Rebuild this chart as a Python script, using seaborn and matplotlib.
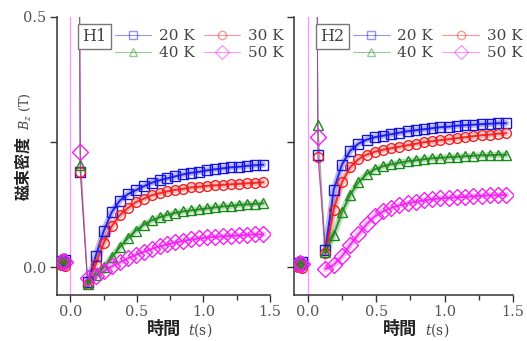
import matplotlib
matplotlib.use("Agg")
import matplotlib.pyplot as plt
from matplotlib.lines import Line2D
import seaborn as sns

# marker times (s)
t_pre = [-0.07, -0.055, -0.04]
t_spike = [0.068, 0.075, 0.13]
t_post = [0.13, 0.19, 0.25, 0.31, 0.37, 0.43, 0.49, 0.55, 0.61, 0.67, 0.73,
          0.79, 0.85, 0.91, 0.97, 1.03, 1.09, 1.15, 1.21, 1.27, 1.33, 1.39, 1.45]
spike_top = 0.62

labels = ["20 K", "30 K", "40 K", "50 K"]
colors = ["#1414e6", "#f01e1e", "#1a8a1a", "#f020f0"]
markers = ["s", "o", "^", "D"]

# H1 panel, B_z (T)
h1_pre = {
    "20 K": [0.012, 0.010, 0.014],
    "30 K": [0.004, 0.008, 0.002],
    "40 K": [0.016, 0.012, 0.018],
    "50 K": [0.010, 0.013, 0.011],
}
h1_peak = {"20 K": 0.190, "30 K": 0.190, "40 K": 0.205, "50 K": 0.230}
h1_post = {
    "20 K": [-0.030, 0.022, 0.072, 0.110, 0.133, 0.146, 0.154, 0.162, 0.169, 0.174, 0.178,
             0.182, 0.186, 0.189, 0.191, 0.194, 0.196, 0.198, 0.200, 0.201, 0.203, 0.204, 0.205],
    "30 K": [-0.034, 0.006, 0.048, 0.082, 0.104, 0.118, 0.130, 0.137, 0.144, 0.148, 0.152,
             0.155, 0.157, 0.160, 0.161, 0.163, 0.164, 0.165, 0.166, 0.167, 0.168, 0.169, 0.170],
    "40 K": [-0.033, -0.016, 0.000, 0.020, 0.040, 0.058, 0.073, 0.085, 0.094, 0.100, 0.105,
             0.109, 0.112, 0.114, 0.116, 0.118, 0.120, 0.122, 0.123, 0.125, 0.126, 0.127, 0.128],
    "50 K": [-0.022, -0.018, -0.008, 0.002, 0.010, 0.018, 0.025, 0.031, 0.037, 0.042, 0.046,
             0.050, 0.053, 0.056, 0.058, 0.060, 0.061, 0.062, 0.063, 0.064, 0.065, 0.066, 0.066],
}

# H2 panel, B_z (T)
h2_pre = {
    "20 K": [0.008, 0.006, 0.010],
    "30 K": [0.000, 0.004, -0.002],
    "40 K": [0.010, 0.008, 0.012],
    "50 K": [0.006, 0.008, 0.007],
}
h2_peak = {"20 K": 0.225, "30 K": 0.220, "40 K": 0.285, "50 K": 0.260}
h2_post = {
    "20 K": [0.035, 0.155, 0.205, 0.233, 0.247, 0.255, 0.260, 0.263, 0.266, 0.269, 0.272,
             0.274, 0.276, 0.278, 0.280, 0.281, 0.283, 0.284, 0.285, 0.286, 0.287, 0.288, 0.288],
    "30 K": [0.028, 0.115, 0.170, 0.200, 0.216, 0.225, 0.231, 0.235, 0.238, 0.241, 0.244,
             0.247, 0.250, 0.252, 0.254, 0.256, 0.258, 0.260, 0.262, 0.264, 0.265, 0.267, 0.268],
    "40 K": [0.030, 0.065, 0.110, 0.145, 0.170, 0.186, 0.196, 0.202, 0.206, 0.209, 0.212,
             0.214, 0.216, 0.218, 0.219, 0.220, 0.221, 0.222, 0.223, 0.224, 0.224, 0.225, 0.225],
    "50 K": [-0.003, 0.005, 0.022, 0.045, 0.066, 0.086, 0.102, 0.112, 0.119, 0.124, 0.128,
             0.131, 0.134, 0.136, 0.138, 0.139, 0.140, 0.141, 0.142, 0.143, 0.144, 0.144, 0.145],
}

sns.set_style("ticks")
plt.rcParams["font.family"] = ["DejaVu Serif"]
plt.rcParams["mathtext.fontset"] = "dejavuserif"
plt.rcParams["axes.edgecolor"] = "#333333"
plt.rcParams["xtick.color"] = "#333333"
plt.rcParams["ytick.color"] = "#333333"

fig = plt.figure(figsize=(5.27, 3.41), dpi=100)
ax1 = fig.add_axes([57 / 527, 1 - 295 / 341, 213 / 527, 278 / 341])
ax2 = fig.add_axes([294 / 527, 1 - 295 / 341, 219 / 527, 278 / 341])


def draw_panel(ax, pre, peak, post, tag):
    ax.axvline(0, color="#ff90ff", lw=0.9, zorder=1)
    for lab, c, m in zip(labels, colors, markers):
        # thin spike from the top down to the minimum
        sns.lineplot(x=t_spike, y=[spike_top, peak[lab], post[lab][0]], ax=ax, color=c,
                     lw=0.7, alpha=0.55, zorder=2)
        # thick traces
        sns.lineplot(x=t_pre, y=pre[lab], ax=ax, color=c, lw=4.5, alpha=0.35, zorder=2)
        sns.lineplot(x=t_post, y=post[lab], ax=ax, color=c, lw=4.5, alpha=0.3, zorder=2)
        sns.lineplot(x=t_post, y=post[lab], ax=ax, color=c, lw=1.4, alpha=0.9, zorder=3)
        ms = 7.8 if m == "D" else 7.0
        sns.lineplot(x=t_pre + [0.075] + t_post, y=pre[lab] + [peak[lab]] + post[lab], ax=ax,
                     linestyle="none", marker=m, markersize=ms, markerfacecolor="none",
                     markeredgecolor=c, markeredgewidth=1.0, color=c, zorder=4)

    ax.set_xlim(-0.1, 1.5)
    ax.set_ylim(-0.055, 0.5)
    ax.set_xticks([0.0, 0.5, 1.0, 1.5])
    ax.set_xticklabels(["0.0", "0.5", "1.0", "1.5"])
    ax.set_xticks([0.25, 0.75, 1.25], minor=True)
    ax.set_yticks([0.0, 0.25, 0.5])
    ax.tick_params(axis="both", which="major", length=5, width=1, labelsize=10.5,
                   labelcolor="#555555", pad=2.5)
    ax.tick_params(axis="x", which="minor", length=3.5, width=1)
    ax.set_xlabel("")
    ax.set_ylabel("")
    for s in ["top", "right"]:
        ax.spines[s].set_visible(False)
    for s in ["left", "bottom"]:
        ax.spines[s].set_linewidth(1.1)

    ax.text(0.176, 0.93, tag, transform=ax.transAxes, ha="center", va="center",
            fontsize=11.5, color="#444444",
            bbox=dict(boxstyle="square,pad=0.25", fc="white", ec="#777777", lw=1))

    handles = []
    for lab, c, m in zip(labels, colors, markers):
        handles.append(Line2D([0], [0], color=c, lw=0.8, alpha=0.45, marker=m,
                              markersize=6 if m != "D" else 7, markerfacecolor="none",
                              markeredgecolor=c, markeredgewidth=1.0))
    order = [0, 2, 1, 3]
    ax.legend([handles[i] for i in order], [labels[i] for i in order], ncol=2,
              loc="upper left", bbox_to_anchor=(0.27, 0.957), frameon=False,
              fontsize=11, handlelength=2.4, handletextpad=0.5, columnspacing=0.6,
              labelspacing=0.2, borderpad=0, borderaxespad=0, labelcolor="#444444")


draw_panel(ax1, h1_pre, h1_peak, h1_post, "H1")
draw_panel(ax2, h2_pre, h2_peak, h2_post, "H2")
ax1.set_yticklabels(["0.0", "", "0.5"])
ax2.set_yticklabels(["", "", ""])

# axis labels
cjk = ["Noto Sans CJK JP", "DejaVu Sans"]
fig.text(23.5 / 527, 1 - 168 / 341, "磁束密度", rotation=90, ha="center", va="center",
         fontsize=11.5, fontweight="bold", family=cjk, color="#222222")
fig.text(25 / 527, 1 - 111 / 341, "$B_z$ (T)", rotation=90, ha="center", va="center",
         fontsize=9, color="#444444")
for cx_cjk, cx_t in [(164.5, 200), (400, 437.5)]:
    fig.text(cx_cjk / 527, 1 - 329 / 341, "時間", ha="center", va="center",
             fontsize=12.3, fontweight="bold", family=cjk, color="#222222")
    fig.text(cx_t / 527, 1 - 330 / 341, "$t$(s)", ha="center", va="center",
             fontsize=10, color="#444444")

fig.savefig("out.png", dpi=100)
